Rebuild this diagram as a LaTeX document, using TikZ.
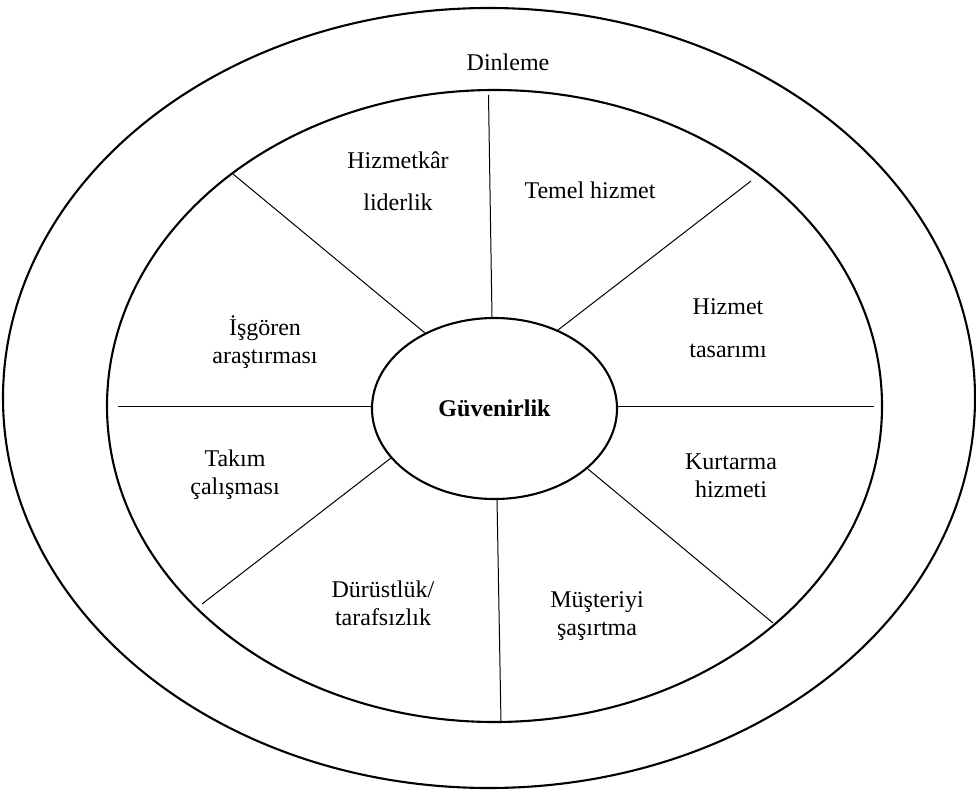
\documentclass[tikz,border=0pt]{standalone}
\usepackage{fontspec}
\setmainfont{Liberation Serif}
\usetikzlibrary{shapes.geometric}
\begin{document}
\begin{tikzpicture}[x=1pt,y=-1pt,
  ring/.style={line width=2.1pt},
  spoke/.style={line width=1pt},
  lbl/.style={align=center,font=\fontsize{24}{28}\selectfont,inner sep=0pt}]
\useasboundingbox (0,0) rectangle (976,791);
% rings
\draw[ring] (489,398) ellipse [x radius=486, y radius=390];
\draw[ring] (494.5,406) ellipse [x radius=387.5, y radius=316];
\node[ring,draw,ellipse,minimum width=245pt,minimum height=181pt,inner sep=0pt,
      font=\fontsize{24}{28}\selectfont\bfseries] (core) at (494.5,408.5) {Güvenirlik};
% spoke end points
\coordinate (o1) at (488.5,95);  \coordinate (i1) at (492,318);
\coordinate (o2) at (233,174);   \coordinate (i2) at (425,333);
\coordinate (o3) at (751,181);   \coordinate (i3) at (558,330);
\coordinate (o4) at (118,406);   \coordinate (i4) at (372,406);
\coordinate (o5) at (874,406);   \coordinate (i5) at (617,406);
\coordinate (o6) at (202,604);   \coordinate (i6) at (391,458);
\coordinate (o7) at (773,623);   \coordinate (i7) at (588,469);
\coordinate (o8) at (501,723);   \coordinate (i8) at (497,499);
\foreach \k in {1,...,8} \draw[spoke] (o\k) -- (i\k);
% labels
\node[lbl] (dinleme) at (508,62) {Dinleme};
\node[lbl] (hizmetkar) at (398,181) {Hizmetkâr\\[14pt]liderlik};
\node[lbl] (temel) at (590,190) {Temel hizmet};
\node[lbl] (isgoren) at (265,342) {İşgören\\araştırması};
\node[lbl] (tasarim) at (728,328.5) {Hizmet\\[15pt]tasarımı};
\node[lbl] (takim) at (235,474.5) {Takım\\çalışması};
\node[lbl] (kurtarma) at (731,476) {Kurtarma\\hizmeti};
\node[lbl] (durust) at (383,603) {Dürüstlük/\\tarafsızlık};
\node[lbl] (musteri) at (597,616) {Müşteriyi\\şaşırtma};
\end{tikzpicture}
\end{document}
